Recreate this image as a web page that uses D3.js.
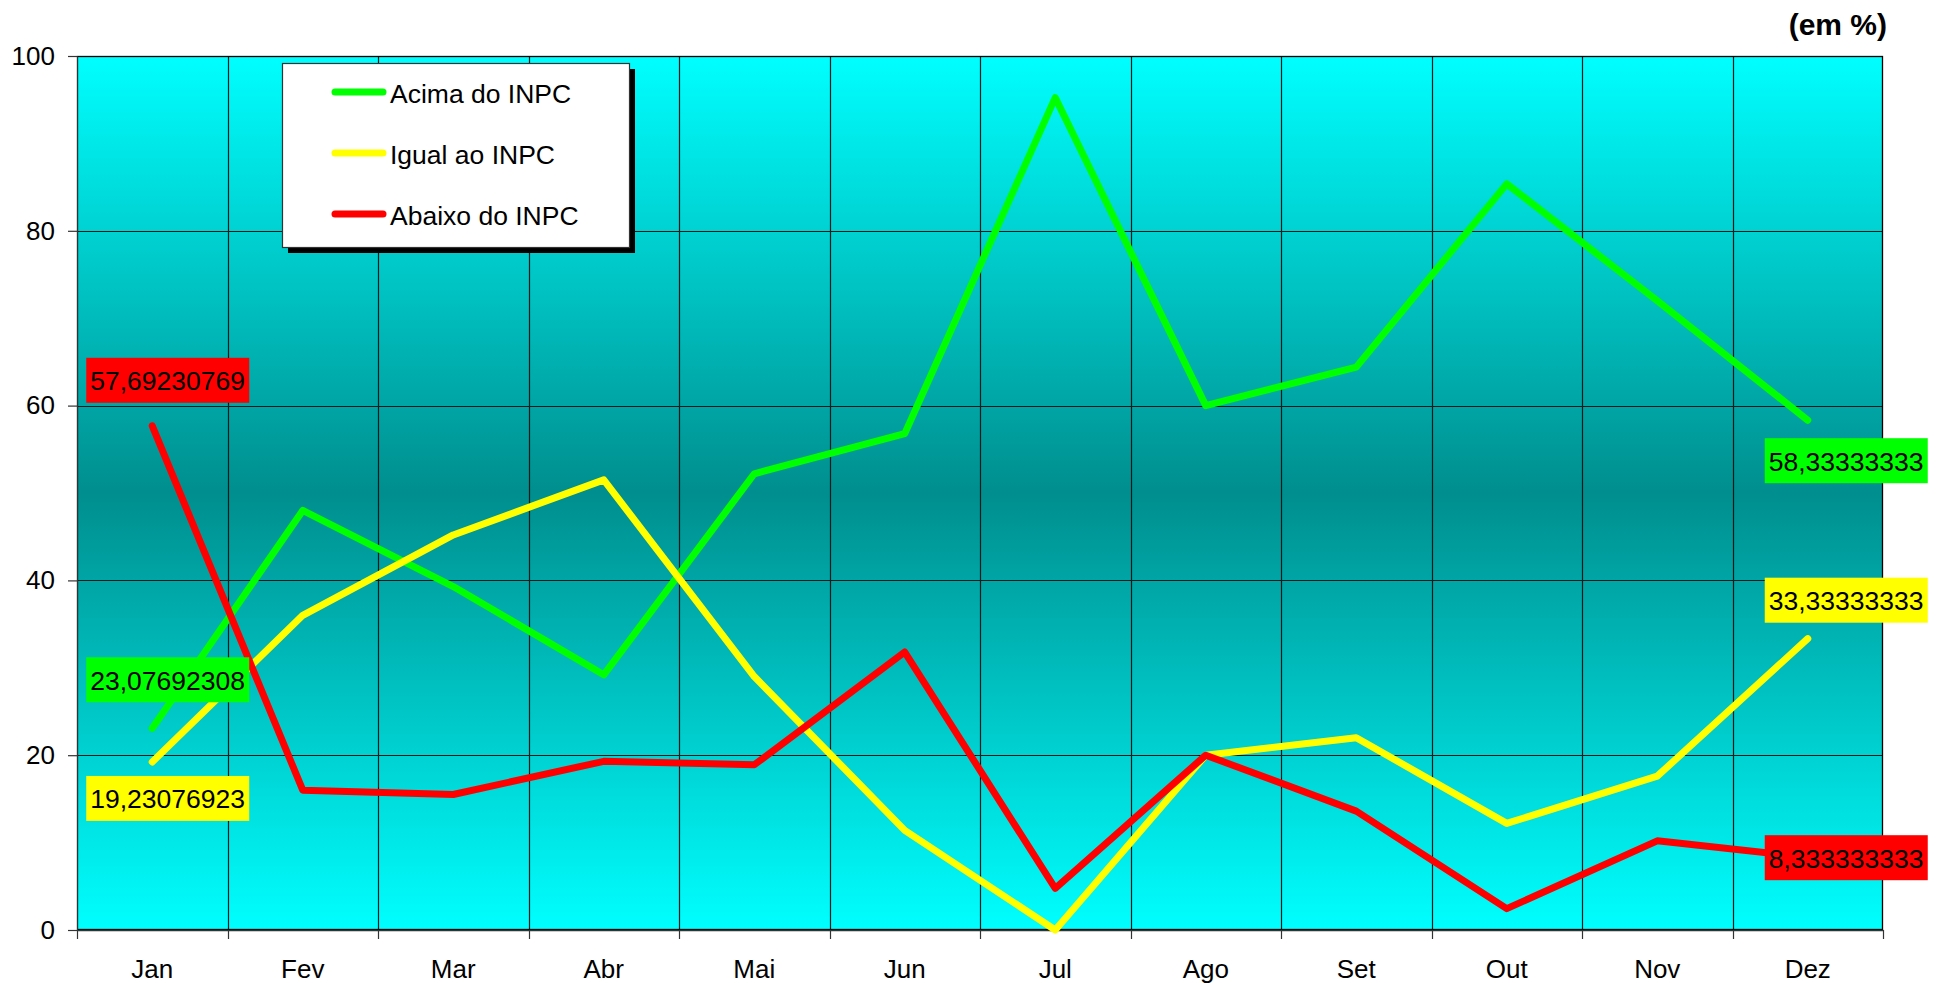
<!DOCTYPE html>
<html>
<head>
<meta charset="utf-8">
<script src="https://cdn.jsdelivr.net/npm/d3@7"></script>
<style>
  html, body { margin: 0; padding: 0; background: #ffffff; }
  svg { display: block; }
  text { font-family: "Liberation Sans", Arial, sans-serif; fill: #000; }
</style>
</head>
<body>
<svg id="chart" width="1950" height="983"></svg>
<script>
// ---- data ----
const months = ["Jan", "Fev", "Mar", "Abr", "Mai", "Jun", "Jul", "Ago", "Set", "Out", "Nov", "Dez"];
const acima  = [23.08, 48.0, 39.3, 29.2, 52.2, 56.8, 95.24, 60.0, 64.4, 85.37, 72.0, 58.33];
const igual  = [19.23, 36.0, 45.2, 51.5, 29.0, 11.4, 0, 20.0, 22.0, 12.2, 17.6, 33.33];
const abaixo = [57.69, 16.0, 15.5, 19.3, 18.9, 31.8, 4.76, 20.0, 13.6, 2.44, 10.2, 8.33];
const seriesNames = ["Acima do INPC", "Igual ao INPC", "Abaixo do INPC"];
const seriesColors = ["#00FF00", "#FFFF00", "#FF0000"];
const yTicks = [0, 20, 40, 60, 80, 100];
const unitLabel = "(em %)";
// data labels: series index, point index, text
const labelSeries = [2, 0, 1, 0, 1, 2];
const labelPoint  = [0, 0, 0, 11, 11, 11];
const labelText   = ["57,69230769", "23,07692308", "19,23076923", "58,33333333", "33,33333333", "8,333333333"];

// ---- layout ----
const M = { left: 77, top: 56, right: 1883, bottom: 930 };
const svg = d3.select("#chart");

const x = d3.scaleBand().domain(months).range([M.left, M.right]).paddingInner(0).paddingOuter(0);
const y = d3.scaleLinear().domain([0, 100]).range([M.bottom, M.top]);

// gradient background
const defs = svg.append("defs");
const grad = defs.append("linearGradient").attr("id", "bg").attr("x1", 0).attr("y1", 0).attr("x2", 0).attr("y2", 1);
grad.append("stop").attr("offset", "0%").attr("stop-color", "#00FFFF");
grad.append("stop").attr("offset", "50%").attr("stop-color", "#008E8E");
grad.append("stop").attr("offset", "100%").attr("stop-color", "#00FFFF");

svg.append("rect")
  .attr("x", M.left).attr("y", M.top)
  .attr("width", M.right - M.left).attr("height", M.bottom - M.top)
  .attr("fill", "url(#bg)");

// gridlines
const gridColor = "#0a1a1a";
svg.append("g").selectAll("line").data(yTicks.filter(d => d > 0 && d < 100)).join("line")
  .attr("x1", M.left).attr("x2", M.right)
  .attr("y1", d => Math.round(y(d)) + 0.5).attr("y2", d => Math.round(y(d)) + 0.5)
  .attr("stroke", gridColor).attr("stroke-width", 1.2);
svg.append("g").selectAll("line").data(months.slice(1)).join("line")
  .attr("x1", d => Math.round(x(d)) + 0.5).attr("x2", d => Math.round(x(d)) + 0.5)
  .attr("y1", M.top).attr("y2", M.bottom)
  .attr("stroke", gridColor).attr("stroke-width", 1.2);

// plot border
svg.append("rect")
  .attr("x", M.left + 0.5).attr("y", M.top + 0.5)
  .attr("width", M.right - M.left - 1).attr("height", M.bottom - M.top - 1)
  .attr("fill", "none").attr("stroke", "#000").attr("stroke-width", 1.3);

// y axis
const yAxis = d3.axisLeft(y).tickValues(yTicks).tickSize(9).tickPadding(13).tickFormat(d3.format("d"));
const gy = svg.append("g").attr("transform", `translate(${M.left},0)`).call(yAxis);
gy.select(".domain").attr("stroke", "#333");
gy.selectAll(".tick line").attr("stroke", "#333").attr("stroke-width", 1.2);
gy.selectAll(".tick text").attr("font-size", 26).attr("font-family", "Liberation Sans, Arial, sans-serif").attr("fill", "#000");

// x axis
const xAxis = d3.axisBottom(x).tickSize(0).tickPadding(30);
const gx = svg.append("g").attr("transform", `translate(0,${M.bottom})`).call(xAxis);
gx.select(".domain").attr("stroke", "#333").attr("stroke-width", 1.3);
gx.selectAll(".tick text").attr("font-size", 26).attr("font-family", "Liberation Sans, Arial, sans-serif").attr("fill", "#000");
// boundary tick marks
svg.append("g").selectAll("line").data(d3.range(months.length + 1)).join("line")
  .attr("x1", i => Math.round(M.left + i * x.step()) + 0.5)
  .attr("x2", i => Math.round(M.left + i * x.step()) + 0.5)
  .attr("y1", M.bottom).attr("y2", M.bottom + 9)
  .attr("stroke", "#333").attr("stroke-width", 1.2);

// lines
const allSeries = [acima, igual, abaixo];
const line = d3.line().x((d, i) => x(months[i]) + x.bandwidth() / 2).y(d => y(d));
svg.append("g").selectAll("path").data(allSeries).join("path")
  .attr("d", d => line(d))
  .attr("fill", "none")
  .attr("stroke", (d, i) => seriesColors[i])
  .attr("stroke-width", 7)
  .attr("stroke-linecap", "round")
  .attr("stroke-linejoin", "round");

// data labels
const boxW = 163, boxH = 45;
const boxDx = [-66, -66, -66, -43, -43, -43];
const boxDy = [-68, -71, 14, 18, -61, -22];
const gl = svg.append("g");
labelText.forEach((t, k) => {
  const s = labelSeries[k], p = labelPoint[k];
  const px = x(months[p]) + x.bandwidth() / 2;
  const py = y(allSeries[s][p]);
  const bx = px + boxDx[k], by = py + boxDy[k];
  gl.append("rect").attr("x", bx).attr("y", by).attr("width", boxW).attr("height", boxH)
    .attr("fill", seriesColors[s]);
  gl.append("text").attr("x", bx + 4).attr("y", by + boxH / 2 + 1)
    .attr("dominant-baseline", "central").attr("font-size", 26.5).text(t);
});

// legend
const lg = svg.append("g");
lg.append("rect").attr("x", 288).attr("y", 69).attr("width", 347).attr("height", 184).attr("fill", "#000");
lg.append("rect").attr("x", 282.5).attr("y", 63.5).attr("width", 347).attr("height", 184)
  .attr("fill", "#fff").attr("stroke", "#333").attr("stroke-width", 1.2);
seriesNames.forEach((n, i) => {
  const ly = 92 + i * 61;
  lg.append("line").attr("x1", 335).attr("x2", 383).attr("y1", ly).attr("y2", ly)
    .attr("stroke", seriesColors[i]).attr("stroke-width", 7).attr("stroke-linecap", "round");
  lg.append("text").attr("x", 390).attr("y", ly + 2).attr("dominant-baseline", "central")
    .attr("font-size", 26.5).text(n);
});

// unit label
svg.append("text").attr("x", 1887).attr("y", 35).attr("text-anchor", "end")
  .attr("font-size", 30).attr("font-weight", "bold").text(unitLabel);
</script>
</body>
</html>
